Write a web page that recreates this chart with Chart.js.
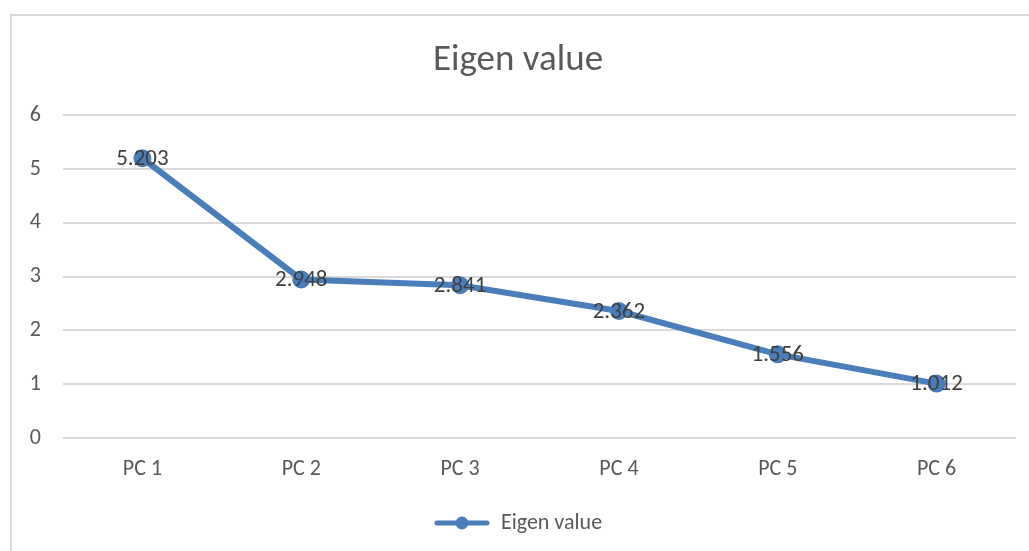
<!DOCTYPE html>
<html>
<head>
<meta charset="UTF-8">
<script src="https://cdn.jsdelivr.net/npm/chart.js"></script>
<style>
  html, body { margin: 0; padding: 0; background: #fff; overflow: hidden; }
  #wrap { position: absolute; left: 0; top: 0; width: 1029px; height: 578px; }
  #frame { position: absolute; left: 10px; top: 14px; width: 1100px; height: 700px;
           border-left: 2px solid #d9d9d9; border-top: 2px solid #d9d9d9; }
</style>
</head>
<body>
<div id="frame"></div>
<div id="wrap"><canvas id="c"></canvas></div>
<script>
const categories = ['PC 1', 'PC 2', 'PC 3', 'PC 4', 'PC 5', 'PC 6'];
const eigenValues = [5.203, 2.948, 2.841, 2.362, 1.556, 1.012];
const valueLabels = ['5.203', '2.948', '2.841', '2.362', '1.556', '1.012'];

const lineColor = '#4a7ebb';
const font = "Calibri, Carlito, 'Open Sans', 'Liberation Sans', sans-serif";

// legend symbol: line with a circle marker
const sym = document.createElement('canvas');
sym.width = 56; sym.height = 16;
const sc = sym.getContext('2d');
sc.strokeStyle = lineColor; sc.lineWidth = 5; sc.lineCap = 'round';
sc.beginPath(); sc.moveTo(3, 8); sc.lineTo(53, 8); sc.stroke();
sc.fillStyle = lineColor;
sc.beginPath(); sc.arc(28, 8, 6.5, 0, Math.PI * 2); sc.fill();

// value labels drawn centered on each point
const centerLabels = {
  id: 'centerLabels',
  afterDatasetsDraw(chart) {
    const ctx = chart.ctx;
    const meta = chart.getDatasetMeta(0);
    ctx.save();
    ctx.font = '23px ' + font;
    ctx.fillStyle = '#404040';
    ctx.textAlign = 'center';
    ctx.textBaseline = 'middle';
    meta.data.forEach((pt, i) => ctx.fillText(valueLabels[i], pt.x, pt.y + 1));
    ctx.restore();
  }
};

new Chart(document.getElementById('c'), {
  type: 'line',
  data: {
    labels: categories,
    datasets: [{
      label: 'Eigen value',
      data: eigenValues,
      borderColor: lineColor,
      backgroundColor: lineColor,
      borderWidth: 6,
      pointRadius: 6,
      pointHoverRadius: 6,
      pointBackgroundColor: lineColor,
      pointBorderColor: lineColor,
      tension: 0
    }]
  },
  options: {
    responsive: true,
    maintainAspectRatio: false,
    animation: false,
    layout: { padding: { left: 20, right: 13, top: 0, bottom: 34 } },
    plugins: {
      tooltip: { enabled: false },
      title: {
        display: true,
        text: 'Eigen value',
        color: '#595959',
        font: { family: font, size: 37, weight: 'normal' },
        padding: { top: 39, bottom: 32 }
      },
      legend: {
        position: 'bottom',
        labels: {
          color: '#595959',
          font: { family: font, size: 22 },
          usePointStyle: true,
          pointStyle: sym,
          pointStyleWidth: 56,
          padding: 10,
          generateLabels: () => [{ text: 'Eigen value', pointStyle: sym, fontColor: '#595959', lineWidth: 0, strokeStyle: 'transparent', fillStyle: 'transparent' }]
        }
      }
    },
    scales: {
      x: {
        offset: true,
        grid: { display: false },
        border: { display: false },
        ticks: { color: '#595959', font: { family: font, size: 22 }, padding: 10 },
        afterFit(s) { s.height = 64; }
      },
      y: {
        min: 0,
        max: 6,
        grid: { color: '#d9d9d9', lineWidth: 2, drawTicks: false },
        border: { display: false },
        ticks: { stepSize: 1, color: '#595959', font: { family: font, size: 22 }, padding: 22 },
        afterFit(s) { s.width = 43; }
      }
    }
  },
  plugins: [centerLabels]
});
</script>
</body>
</html>
